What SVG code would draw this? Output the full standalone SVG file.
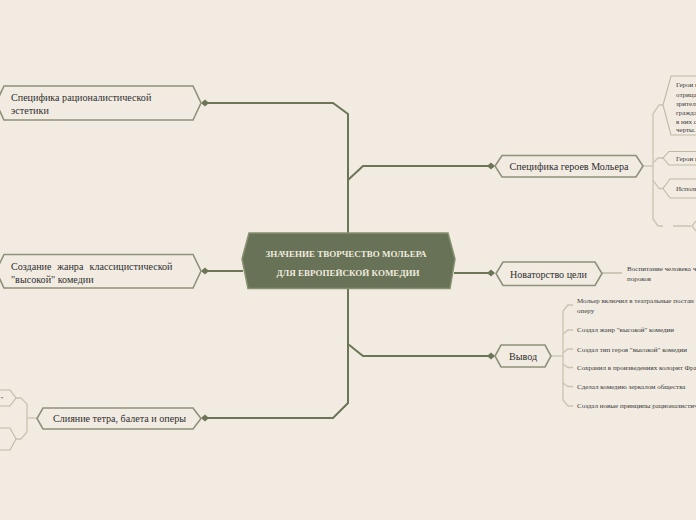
<svg xmlns="http://www.w3.org/2000/svg" xmlns:xlink="http://www.w3.org/1999/xlink" width="696" height="520" viewBox="0 0 696 520">
<style>
.bg{fill:#f2ebe2}
.trunk{fill:none;stroke:#6c7656;stroke-width:2}
.sub{fill:none;stroke:#c8c4b1;stroke-width:1.3}
.n1{fill:#f2ebe2;stroke:#8f917b;stroke-width:1.6}
.n2{fill:#f2ebe2;stroke:#bdb9a5;stroke-width:1.1}
.center{fill:#677256;stroke:#87906f;stroke-width:1.5}
.t1{font-family:"Liberation Serif","Times New Roman",serif;font-size:10.1px;fill:#2e2e2e}
.t2{font-family:"Liberation Serif","Times New Roman",serif;font-size:7px;fill:#3a3a3a}
.tc{font-family:"Liberation Serif","Times New Roman",serif;font-size:9px;font-weight:bold;fill:#f1eadf;text-anchor:middle}
.mid{text-anchor:middle}
</style>
<defs>
<polygon id="dia" points="-4,0 0,-3.5 4,0 0,3.5" fill="#6c7656"/>
</defs>
<rect class="bg" x="0" y="0" width="696" height="520"/>

<g id="connectors">
<path class="trunk" d="M205,103 L333,103 L348,114 L348,403 L333,418 L205,418"/>
<path class="trunk" d="M205,271 L243,271"/>
<path class="trunk" d="M348,180 L363,166 L491,166"/>
<path class="trunk" d="M454,273 L491,273"/>
<path class="trunk" d="M348,344 L363,356 L491,356"/>
<use xlink:href="#dia" x="205" y="103"/>
<use xlink:href="#dia" x="205" y="271"/>
<use xlink:href="#dia" x="205" y="418"/>
<use xlink:href="#dia" x="491" y="166"/>
<use xlink:href="#dia" x="491" y="273"/>
<use xlink:href="#dia" x="491" y="356"/>
<path class="sub" d="M643,166 L653,166"/>
<path class="sub" d="M663,105 L659,105 L653,114 L653,219 L658,226 L663,226"/>
<path class="sub" d="M653,163 L658,158 L663,158"/>
<path class="sub" d="M653,180 L659,188.5 L663,188.5"/>
<path class="sub" d="M673,226 L691,226 M696,221 L692,226 L696,231"/>
<path class="sub" d="M602,273 L622,273" style="stroke-width:1.8"/>
<path class="sub" d="M551,356 L563,356"/>
<path class="sub" d="M573,305 L568,305 L563,311 L563,400 L568,406 L573,406"/>
<path class="sub" d="M563,334 L568,330 L573,330"/>
<path class="sub" d="M563,353 L568,349 L573,349"/>
<path class="sub" d="M563,364 L568,367.5 L573,367.5"/>
<path class="sub" d="M563,383 L568,386.5 L573,386.5"/>
<path class="sub" d="M16,398 L21,398 L27,404 L27,432 L21,439 L16,439"/>
<path class="sub" d="M27,418 L37,418"/>
</g>

<g id="center">
<polygon class="center" points="249,233 448,233 455,259 450,288.5 248,288.5 242,259"/>
<text class="tc" x="346" y="257">ЗНАЧЕНИЕ ТВОРЧЕСТВО МОЛЬЕРА</text>
<text class="tc" x="348" y="276">ДЛЯ ЕВРОПЕЙСКОЙ КОМЕДИИ</text>
</g>

<g id="n-estetika">
<polygon class="n1" points="4,86 193,86 201,103 193,120 4,120 -4,103"/>
<text class="t1" x="11" y="101">Специфика рационалистической</text>
<text class="t1" x="11" y="114">эстетики</text>
</g>

<g id="n-sozdanie">
<polygon class="n1" points="4,254.5 193,254.5 201,271 193,288 4,288 -4,271"/>
<text class="t1" y="270"><tspan x="11">Создание</tspan><tspan x="57">жанра</tspan><tspan x="89.5">классицистической</tspan></text>
<text class="t1" x="11" y="283">"высокой" комедии</text>
</g>

<g id="n-sliyanie">
<polygon class="n1" points="43,408 193,408 201,418.5 193,429 43,429 37,418.5"/>
<text class="t1 mid" x="119.5" y="422">Слияние тетра, балета и оперы</text>
</g>

<g id="n-sl-1">
<polygon class="n2" points="-20,390 10,390 16,398 10,406 -20,406"/>
<text class="t2" x="0.5" y="400.5">"</text>
</g>

<g id="n-sl-2">
<polygon class="n2" points="-20,428 10,428 16,439 10,450 -20,450"/>
</g>

<g id="n-geroi">
<polygon class="n1" points="502,155.5 636,155.5 643,166 636,177 502,177 495,166"/>
<text class="t1 mid" x="569" y="170">Специфика героев Мольера</text>
</g>

<g id="n-geroi-1">
<polygon class="n2" points="671,76 760,76 760,135 671,135 663,105"/>
<text class="t2" x="676" y="87">Герои к</text>
<text class="t2" x="676" y="96.5">отрица</text>
<text class="t2" x="676" y="105.5">зрителя</text>
<text class="t2" x="676" y="114.5">граждан</text>
<text class="t2" x="676" y="123.5">в них с</text>
<text class="t2" x="676" y="132">черты.</text>
</g>

<g id="n-geroi-2">
<polygon class="n2" points="669,151.5 760,151.5 760,165 669,165 663,158"/>
<text class="t2" x="676" y="160.5">Герои н</text>
</g>

<g id="n-geroi-3">
<polygon class="n2" points="670,179 760,179 760,198 670,198 663,188.5"/>
<text class="t2" x="676" y="191">Исполь</text>
</g>

<g id="n-novatorstvo">
<polygon class="n1" points="503,262 595,262 602,273.5 595,285.5 503,285.5 496,273.5"/>
<text class="t1 mid" x="548.5" y="277.5">Новаторство цели</text>
</g>

<g id="n-vospitanie">
<text class="t2" x="627" y="271">Воспитание человека ч</text>
<text class="t2" x="627" y="280.5">пороков</text>
</g>

<g id="n-vyvod">
<polygon class="n1" points="501,345 545,345 551,356 545,367 501,367 495,356"/>
<text class="t1 mid" x="523" y="360">Вывод</text>
</g>

<g id="n-vyvod-children">
<text class="t2" x="577" y="303">Мольер включил в театральные постан</text>
<text class="t2" x="577" y="312.5">оперу</text>
<text class="t2" x="577" y="332">Создал жанр "высокой" комедии</text>
<text class="t2" x="577" y="351.5">Создал тип героя "высокой" комедии</text>
<text class="t2" x="577" y="370">Сохранил в произведениях колорит Фра</text>
<text class="t2" x="577" y="389">Сделал комедию зеркалом общества</text>
<text class="t2" x="577" y="408">Создал новые принципы рационалистич</text>
</g>
</svg>
